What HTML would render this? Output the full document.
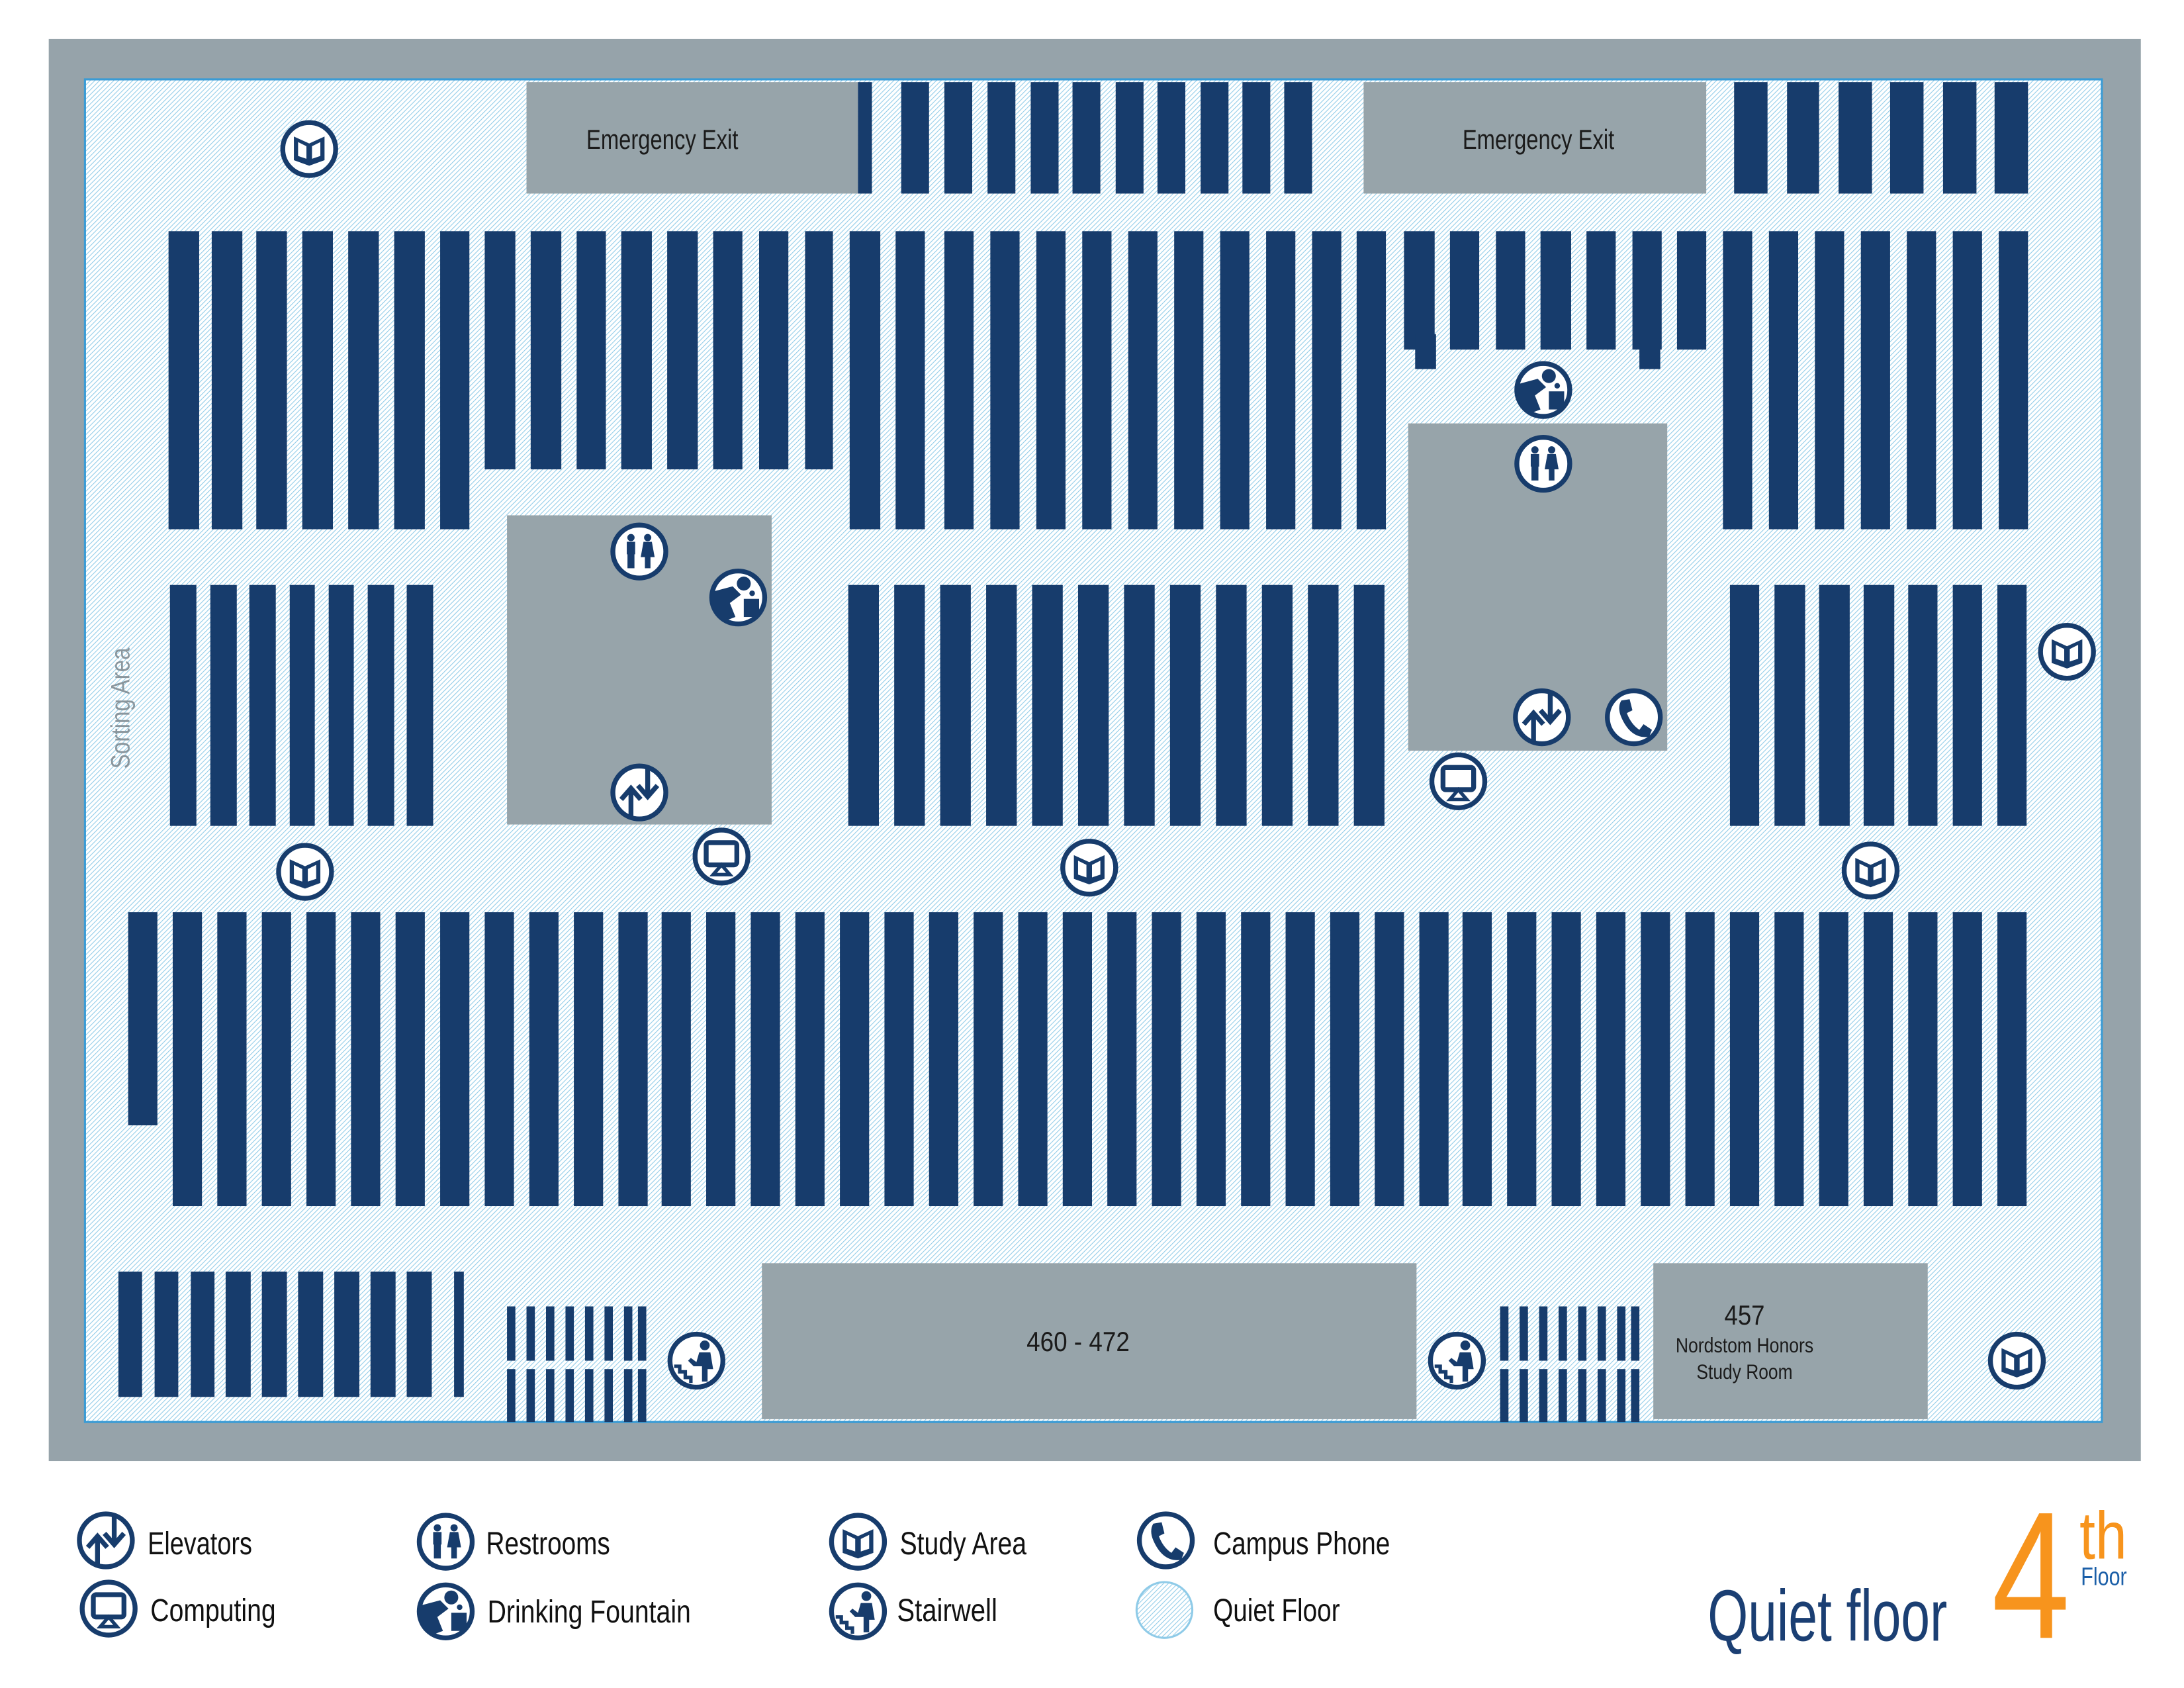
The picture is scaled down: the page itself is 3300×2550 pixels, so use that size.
<!DOCTYPE html>
<html><head><meta charset="utf-8"><style>
html,body{margin:0;padding:0;background:#fff;}
svg{display:block;}
text{font-family:"Liberation Sans Narrow","Liberation Sans",sans-serif;}
</style></head><body>
<svg width="3300" height="2550" viewBox="0 0 1568 1212" preserveAspectRatio="none" xmlns="http://www.w3.org/2000/svg">
<defs>
<pattern id="h" patternUnits="userSpaceOnUse" width="2.4" height="2.4" patternTransform="rotate(45)">
<rect width="2.4" height="2.4" fill="#ffffff"/>
<line x1="0" y1="0" x2="0" y2="2.4" stroke="#8fcbe8" stroke-width="1"/>
</pattern>
<g id="ring"><circle r="19" fill="#fff" stroke="#173c6c" stroke-width="3.5"/></g>
<symbol id="study" viewBox="-22 -22 44 44" overflow="visible"><use href="#ring"/>
<path d="M-11,-9 L0,-4 L11,-9 L11,8 L0,12 L-11,8 Z" fill="#173c6c"/>
<path d="M-8,-5 L-2,-2 L-2,7 L-8,5 Z M8,-5 L2,-2 L2,7 L8,5 Z" fill="#fff"/></symbol>
<symbol id="rest" viewBox="-22 -22 44 44" overflow="visible"><use href="#ring"/>
<circle cx="-6" cy="-10" r="2.6" fill="#173c6c"/><rect x="-9" y="-7" width="6" height="9" fill="#173c6c"/><rect x="-8.5" y="1" width="5" height="11" fill="#173c6c"/>
<circle cx="6" cy="-10" r="2.6" fill="#173c6c"/><path d="M3,-7 L9,-7 L11,4 L1,4 Z" fill="#173c6c"/><rect x="4" y="3" width="4" height="9" fill="#173c6c"/></symbol>
<symbol id="elev" viewBox="-22 -22 44 44" overflow="visible"><use href="#ring"/>
<path d="M-6,17 L-6,-2 M-13,5 L-6,-3 L1,5 M6,-17 L6,2 M-1,-5 L6,3 L13,-5" stroke="#173c6c" stroke-width="3.5" fill="none"/></symbol>
<symbol id="comp" viewBox="-22 -22 44 44" overflow="visible"><use href="#ring"/>
<rect x="-11" y="-10" width="22" height="16" rx="2" fill="none" stroke="#173c6c" stroke-width="3.5"/>
<path d="M0,6 L-6,13 L6,13 Z" fill="none" stroke="#173c6c" stroke-width="2.5"/></symbol>
<symbol id="phone" viewBox="-22 -22 44 44" overflow="visible"><use href="#ring"/>
<path d="M-9,-12 L-3,-13 L-1,-5 L-5,-3 Q-2,5 4,9 L7,5 L13,9 L11,14 Q-2,16 -9,0 Q-12,-7 -9,-12 Z" fill="#173c6c"/></symbol>
<symbol id="stair" viewBox="-22 -22 44 44" overflow="visible"><use href="#ring"/>
<path d="M-16,4 L-12,4 L-12,8 L-8,8 L-8,12 L-4,12 L-4,16" fill="none" stroke="#173c6c" stroke-width="2.5"/>
<circle cx="6" cy="-11" r="3.5" fill="#173c6c"/><path d="M2,-6 L10,-6 L12,6 L8,6 L8,15 L4,15 L4,4 L-2,4 L-6,0 L-4,-2 L0,1 Z" fill="#173c6c"/></symbol>
<symbol id="fount" viewBox="-22 -22 44 44" overflow="visible"><use href="#ring"/>
<circle cx="4" cy="-10" r="5" fill="#173c6c"/><path d="M-19,-4 L-4,-8 L2,-2 L-6,4 L-2,14 L-10,17 L-19,6 Z" fill="#173c6c"/><rect x="4" y="1" width="11" height="13" fill="#173c6c"/><circle cx="10" cy="-3" r="2" fill="#173c6c"/></symbol>
</defs>

<rect x="35" y="28" width="1502" height="1021" fill="#96a3aa"/>
<rect x="61" y="57" width="1448" height="964" fill="url(#h)" stroke="#3a9bd5" stroke-width="1.5"/>

<g fill="#97a4aa">
<rect x="378" y="59" width="238" height="80"/>
<rect x="979" y="59" width="246" height="80"/>
<rect x="364" y="370" width="190" height="222"/>
<rect x="1011" y="304" width="186" height="235"/>
<rect x="547" y="907" width="470" height="112"/>
<rect x="1187" y="907" width="197" height="112"/>
</g>
<g fill="#1b1b1b" font-size="20">
<text x="421" y="107" textLength="109" lengthAdjust="spacingAndGlyphs">Emergency Exit</text>
<text x="1050" y="107" textLength="109" lengthAdjust="spacingAndGlyphs">Emergency Exit</text>
<text x="737" y="970" textLength="74" lengthAdjust="spacingAndGlyphs">460 - 472</text>
<text x="1238" y="951" textLength="29" lengthAdjust="spacingAndGlyphs">457</text>
<text x="1203" y="971" font-size="15" textLength="99" lengthAdjust="spacingAndGlyphs">Nordstom Honors</text>
<text x="1218" y="990" font-size="15" textLength="69" lengthAdjust="spacingAndGlyphs">Study Room</text>
</g>
<text x="93" y="552" font-size="19" fill="#8a969d" textLength="87" lengthAdjust="spacingAndGlyphs" transform="rotate(-90 93 552)">Sorting Area</text>

<g fill="#173c6c">
<rect x="616" y="59" width="10" height="80"/>
<rect x="647" y="59" width="20" height="80"/><rect x="678" y="59" width="20" height="80"/><rect x="709" y="59" width="20" height="80"/><rect x="740" y="59" width="20" height="80"/><rect x="770" y="59" width="20" height="80"/><rect x="801" y="59" width="20" height="80"/><rect x="831" y="59" width="20" height="80"/><rect x="862" y="59" width="20" height="80"/><rect x="892" y="59" width="20" height="80"/><rect x="922" y="59" width="20" height="80"/>
<rect x="1245" y="59" width="24" height="80"/><rect x="1283" y="59" width="23" height="80"/><rect x="1320" y="59" width="24" height="80"/><rect x="1357" y="59" width="24" height="80"/><rect x="1395" y="59" width="24" height="80"/><rect x="1432" y="59" width="24" height="80"/>
<rect x="121" y="166" width="22" height="214"/><rect x="152" y="166" width="22" height="214"/><rect x="184" y="166" width="22" height="214"/><rect x="217" y="166" width="22" height="214"/><rect x="250" y="166" width="22" height="214"/><rect x="283" y="166" width="22" height="214"/><rect x="316" y="166" width="21" height="214"/>
<rect x="348" y="166" width="22" height="171"/><rect x="381" y="166" width="22" height="171"/><rect x="414" y="166" width="21" height="171"/><rect x="446" y="166" width="22" height="171"/><rect x="479" y="166" width="22" height="171"/><rect x="512" y="166" width="21" height="171"/><rect x="545" y="166" width="21" height="171"/><rect x="578" y="166" width="20" height="171"/>
<rect x="610" y="166" width="22" height="214"/><rect x="643" y="166" width="21" height="214"/><rect x="678" y="166" width="21" height="214"/><rect x="711" y="166" width="21" height="214"/><rect x="744" y="166" width="21" height="214"/><rect x="777" y="166" width="21" height="214"/><rect x="810" y="166" width="21" height="214"/><rect x="843" y="166" width="21" height="214"/><rect x="876" y="166" width="21" height="214"/><rect x="909" y="166" width="21" height="214"/><rect x="942" y="166" width="21" height="214"/><rect x="974" y="166" width="21" height="214"/>
<rect x="1008" y="166" width="22" height="85"/><rect x="1016" y="240" width="15" height="25"/><rect x="1041" y="166" width="21" height="85"/><rect x="1074" y="166" width="21" height="85"/><rect x="1106" y="166" width="22" height="85"/><rect x="1139" y="166" width="21" height="85"/><rect x="1172" y="166" width="21" height="85"/><rect x="1177" y="240" width="15" height="25"/><rect x="1204" y="166" width="21" height="85"/>
<rect x="1237" y="166" width="21" height="214"/><rect x="1270" y="166" width="21" height="214"/><rect x="1303" y="166" width="21" height="214"/><rect x="1336" y="166" width="21" height="214"/><rect x="1369" y="166" width="21" height="214"/><rect x="1402" y="166" width="21" height="214"/><rect x="1435" y="166" width="21" height="214"/>
<rect x="122" y="420" width="19" height="173"/><rect x="151" y="420" width="19" height="173"/><rect x="179" y="420" width="19" height="173"/><rect x="208" y="420" width="18" height="173"/><rect x="236" y="420" width="18" height="173"/><rect x="264" y="420" width="19" height="173"/><rect x="292" y="420" width="19" height="173"/>
<rect x="609" y="420" width="22" height="173"/><rect x="642" y="420" width="22" height="173"/><rect x="675" y="420" width="22" height="173"/><rect x="708" y="420" width="22" height="173"/><rect x="741" y="420" width="22" height="173"/><rect x="774" y="420" width="22" height="173"/><rect x="807" y="420" width="22" height="173"/><rect x="840" y="420" width="22" height="173"/><rect x="873" y="420" width="22" height="173"/><rect x="906" y="420" width="22" height="173"/><rect x="939" y="420" width="22" height="173"/><rect x="972" y="420" width="22" height="173"/>
<rect x="1242" y="420" width="21" height="173"/><rect x="1274" y="420" width="22" height="173"/><rect x="1306" y="420" width="22" height="173"/><rect x="1338" y="420" width="22" height="173"/><rect x="1370" y="420" width="21" height="173"/><rect x="1402" y="420" width="21" height="173"/><rect x="1434" y="420" width="21" height="173"/>
<rect x="92" y="655" width="21" height="153"/>
<rect x="124" y="655" width="21" height="211"/><rect x="156" y="655" width="21" height="211"/><rect x="188" y="655" width="21" height="211"/><rect x="220" y="655" width="21" height="211"/><rect x="252" y="655" width="21" height="211"/><rect x="284" y="655" width="21" height="211"/><rect x="316" y="655" width="21" height="211"/><rect x="348" y="655" width="21" height="211"/><rect x="380" y="655" width="21" height="211"/><rect x="412" y="655" width="21" height="211"/><rect x="444" y="655" width="21" height="211"/><rect x="475" y="655" width="21" height="211"/><rect x="507" y="655" width="21" height="211"/><rect x="539" y="655" width="21" height="211"/><rect x="571" y="655" width="21" height="211"/><rect x="603" y="655" width="21" height="211"/><rect x="635" y="655" width="21" height="211"/><rect x="667" y="655" width="21" height="211"/><rect x="699" y="655" width="21" height="211"/><rect x="731" y="655" width="21" height="211"/><rect x="763" y="655" width="21" height="211"/><rect x="795" y="655" width="21" height="211"/><rect x="827" y="655" width="21" height="211"/><rect x="859" y="655" width="21" height="211"/><rect x="891" y="655" width="21" height="211"/><rect x="923" y="655" width="21" height="211"/><rect x="955" y="655" width="21" height="211"/><rect x="987" y="655" width="21" height="211"/><rect x="1019" y="655" width="21" height="211"/><rect x="1050" y="655" width="21" height="211"/><rect x="1082" y="655" width="21" height="211"/><rect x="1114" y="655" width="21" height="211"/><rect x="1146" y="655" width="21" height="211"/><rect x="1178" y="655" width="21" height="211"/><rect x="1210" y="655" width="21" height="211"/><rect x="1242" y="655" width="21" height="211"/><rect x="1274" y="655" width="21" height="211"/><rect x="1306" y="655" width="21" height="211"/><rect x="1338" y="655" width="21" height="211"/><rect x="1370" y="655" width="21" height="211"/><rect x="1402" y="655" width="21" height="211"/><rect x="1434" y="655" width="21" height="211"/>
<rect x="85" y="913" width="17" height="90"/><rect x="111" y="913" width="17" height="90"/><rect x="137" y="913" width="17" height="90"/><rect x="162" y="913" width="18" height="90"/><rect x="188" y="913" width="18" height="90"/><rect x="214" y="913" width="18" height="90"/><rect x="240" y="913" width="18" height="90"/><rect x="266" y="913" width="18" height="90"/><rect x="292" y="913" width="18" height="90"/><rect x="326" y="913" width="7" height="90"/>
<g id="stk"><rect x="364" y="938" width="6" height="39"/><rect x="378" y="938" width="6" height="39"/><rect x="392" y="938" width="6" height="39"/><rect x="406" y="938" width="6" height="39"/><rect x="420" y="938" width="6" height="39"/><rect x="434" y="938" width="6" height="39"/><rect x="448" y="938" width="6" height="39"/><rect x="458" y="938" width="6" height="39"/>
<rect x="364" y="983" width="6" height="38"/><rect x="378" y="983" width="6" height="38"/><rect x="392" y="983" width="6" height="38"/><rect x="406" y="983" width="6" height="38"/><rect x="420" y="983" width="6" height="38"/><rect x="434" y="983" width="6" height="38"/><rect x="448" y="983" width="6" height="38"/><rect x="458" y="983" width="6" height="38"/></g>
<use href="#stk" transform="translate(713,0)"/>
</g>

<g>
<use href="#study" x="200" y="85" width="44" height="44"/>
<use href="#study" x="197" y="604" width="44" height="44"/>
<use href="#study" x="760" y="601" width="44" height="44"/>
<use href="#study" x="1321" y="603" width="44" height="44"/>
<use href="#study" x="1462" y="446" width="44" height="44"/>
<use href="#study" x="1426" y="955" width="44" height="44"/>
<use href="#rest" x="437" y="374" width="44" height="44"/>
<use href="#rest" x="1086" y="311" width="44" height="44"/>
<use href="#fount" x="508" y="407" width="44" height="44"/>
<use href="#fount" x="1086" y="258" width="44" height="44"/>
<use href="#elev" x="437" y="547" width="44" height="44"/>
<use href="#elev" x="1085" y="493" width="44" height="44"/>
<use href="#comp" x="496" y="593" width="44" height="44"/>
<use href="#comp" x="1025" y="539" width="44" height="44"/>
<use href="#phone" x="1151" y="493" width="44" height="44"/>
<use href="#stair" x="478" y="955" width="44" height="44"/>
<use href="#stair" x="1024" y="955" width="44" height="44"/>
</g>

<use href="#elev" x="54" y="1084" width="44" height="44"/>
<use href="#comp" x="56" y="1133" width="44" height="44"/>
<use href="#rest" x="298" y="1085" width="44" height="44"/>
<use href="#fount" x="298" y="1135" width="44" height="44"/>
<use href="#study" x="594" y="1085" width="44" height="44"/>
<use href="#stair" x="594" y="1135" width="44" height="44"/>
<use href="#phone" x="815" y="1084" width="44" height="44"/>
<circle cx="836" cy="1156" r="20" fill="url(#h)" stroke="#8fcbe8" stroke-width="1.5"/>
<g font-size="23" fill="#111">
<text x="106" y="1116" textLength="75" lengthAdjust="spacingAndGlyphs">Elevators</text>
<text x="108" y="1164" textLength="90" lengthAdjust="spacingAndGlyphs">Computing</text>
<text x="349" y="1116" textLength="89" lengthAdjust="spacingAndGlyphs">Restrooms</text>
<text x="350" y="1165" textLength="146" lengthAdjust="spacingAndGlyphs">Drinking Fountain</text>
<text x="646" y="1116" textLength="91" lengthAdjust="spacingAndGlyphs">Study Area</text>
<text x="644" y="1164" textLength="72" lengthAdjust="spacingAndGlyphs">Stairwell</text>
<text x="871" y="1116" textLength="127" lengthAdjust="spacingAndGlyphs">Campus Phone</text>
<text x="871" y="1164" textLength="91" lengthAdjust="spacingAndGlyphs">Quiet Floor</text>
</g>
<text x="1226" y="1178" font-size="52" fill="#1b3f73" textLength="172" lengthAdjust="spacingAndGlyphs">Quiet floor</text>
<text x="1430" y="1176" font-size="130" fill="#f7941d" textLength="56" lengthAdjust="spacingAndGlyphs">4</text>
<text x="1493" y="1119" font-size="48" fill="#f7941d" textLength="34" lengthAdjust="spacingAndGlyphs">th</text>
<text x="1494" y="1138" font-size="18" fill="#1b5fa8" textLength="33" lengthAdjust="spacingAndGlyphs">Floor</text>
</svg>
</body></html>
